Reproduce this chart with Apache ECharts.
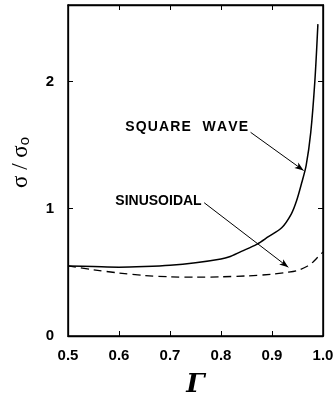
<!DOCTYPE html>
<html>
<head>
<meta charset="utf-8">
<script src="https://cdn.jsdelivr.net/npm/echarts@6/dist/echarts.min.js"></script>
<style>
  html, body { margin: 0; padding: 0; background: #fff; overflow: hidden; }
  #chart { width: 334px; height: 399px; }
</style>
</head>
<body>
<div id="chart"></div>
<script>
// Gamma values and sigma/sigma0
const squareGamma = [0.5, 0.55, 0.6, 0.65, 0.7, 0.75, 0.8, 0.815, 0.84, 0.87, 0.893, 0.919, 0.938, 0.948, 0.958, 0.967, 0.976, 0.984, 0.99];
const squareRatio = [0.55, 0.545, 0.54, 0.545, 0.555, 0.575, 0.605, 0.62, 0.665, 0.72, 0.78, 0.85, 0.96, 1.06, 1.2, 1.34, 1.6, 2.0, 2.45];

const sineGamma = [0.5, 0.55, 0.6, 0.65, 0.7, 0.75, 0.8, 0.85, 0.9, 0.93, 0.95, 0.97, 0.98, 0.99, 1.0];
const sineRatio = [0.55, 0.52, 0.495, 0.475, 0.465, 0.462, 0.465, 0.472, 0.485, 0.5, 0.515, 0.55, 0.58, 0.62, 0.66];

const xTicks = [0.5, 0.6, 0.7, 0.8, 0.9, 1.0];
const yTicks = [0, 1, 2];

// annotation arrows: [from, to] in data units
const squareArrow = [[0.858, 1.6], [0.962, 1.3]];
const sineArrow = [[0.767, 1.047], [0.932, 0.54]];

const chart = echarts.init(document.getElementById('chart'));

const pairs = (xs, ys) => xs.map((x, i) => [x, ys[i]]);
const boldFont = () => ({ color: '#000', fontWeight: 'bold', fontSize: 15, fontFamily: 'Liberation Sans, Arial, sans-serif' });

const frameTick = () => ({ show: true, inside: true, length: 5, lineStyle: { color: '#000', width: 1 } });
const frameLine = () => ({ show: true, onZero: false, lineStyle: { color: '#000', width: 1.3 } });

function arrowLine(a) {
  return {
    silent: true,
    symbol: ['none', 'arrow'],
    symbolSize: [5, 9],
    lineStyle: { color: '#000', width: 1, type: 'solid' },
    label: { show: false },
    data: [[{ coord: a[0] }, { coord: a[1] }]]
  };
}

// caption at the arrow tail
function caption(text, at, dy) {
  return {
    silent: true,
    symbol: 'circle', symbolSize: 1,
    itemStyle: { color: 'rgba(0,0,0,0)' },
    label: {
      show: true, position: 'left', distance: 2, offset: [0, dy], formatter: text,
      color: '#000', fontWeight: 'bold', fontSize: 14, fontFamily: 'Liberation Sans, Arial, sans-serif'
    },
    data: [{ coord: at }]
  };
}

chart.setOption({
  animation: false,
  grid: { left: 68, right: 11, top: 5, bottom: 63, outerBoundsMode: 'none', containLabel: false,
          show: true, borderColor: '#000', borderWidth: 1.5 },
  xAxis: [{
    type: 'value', min: 0.5, max: 1.0, interval: 0.1,
    axisLine: frameLine(), axisTick: frameTick(), splitLine: { show: false },
    axisLabel: Object.assign({ margin: 12, formatter: v => xTicks.includes(Math.round(v * 10) / 10) ? v.toFixed(1) : '' }, boldFont()),
    name: 'Γ', nameLocation: 'middle', nameGap: 36,
    nameTextStyle: { fontFamily: 'DejaVu Serif, Liberation Serif, serif', fontStyle: 'italic', fontWeight: 'bold', fontSize: 26, color: '#000' }
  }, {
    type: 'value', position: 'top', min: 0.5, max: 1.0, interval: 0.1,
    axisLine: frameLine(), axisTick: frameTick(), axisLabel: { show: false }, splitLine: { show: false }
  }],
  yAxis: [{
    type: 'value', min: 0, max: 2.6, interval: 1,
    axisLine: frameLine(), axisTick: frameTick(), splitLine: { show: false },
    axisLabel: Object.assign({ margin: 14, showMaxLabel: false, formatter: v => yTicks.includes(v) ? String(v) : '' }, boldFont()),
    name: 'σ / σ{s|o}', nameLocation: 'middle', nameGap: 36, nameRotate: 90,
    nameTextStyle: {
      fontFamily: 'Liberation Serif, serif', fontSize: 23, color: '#000', padding: [0, 0, 0, 16],
      rich: { s: { fontFamily: 'Liberation Sans, sans-serif', fontSize: 15, color: '#000', verticalAlign: 'bottom', padding: [8, 0, 0, 0] } }
    }
  }, {
    type: 'value', position: 'right', min: 0, max: 2.6, interval: 1,
    axisLine: frameLine(), axisTick: frameTick(), axisLabel: { show: false }, splitLine: { show: false }
  }],
  series: [{
    name: 'SQUARE WAVE', type: 'line', data: pairs(squareGamma, squareRatio),
    smooth: 0.3, showSymbol: false, lineStyle: { color: '#000', width: 1.5 },
    markLine: arrowLine(squareArrow),
    markPoint: caption('S\u200aQ\u200aU\u200aA\u200aR\u200aE   W\u200aA\u200aV\u200aE', squareArrow[0], -5)
  }, {
    name: 'SINUSOIDAL', type: 'line', data: pairs(sineGamma, sineRatio),
    smooth: 0.3, showSymbol: false, lineStyle: { color: '#000', width: 1.3, type: [8, 5] },
    markLine: arrowLine(sineArrow),
    markPoint: caption('SINUSOIDAL', sineArrow[0], -2)
  }]
});
</script>
</body>
</html>
